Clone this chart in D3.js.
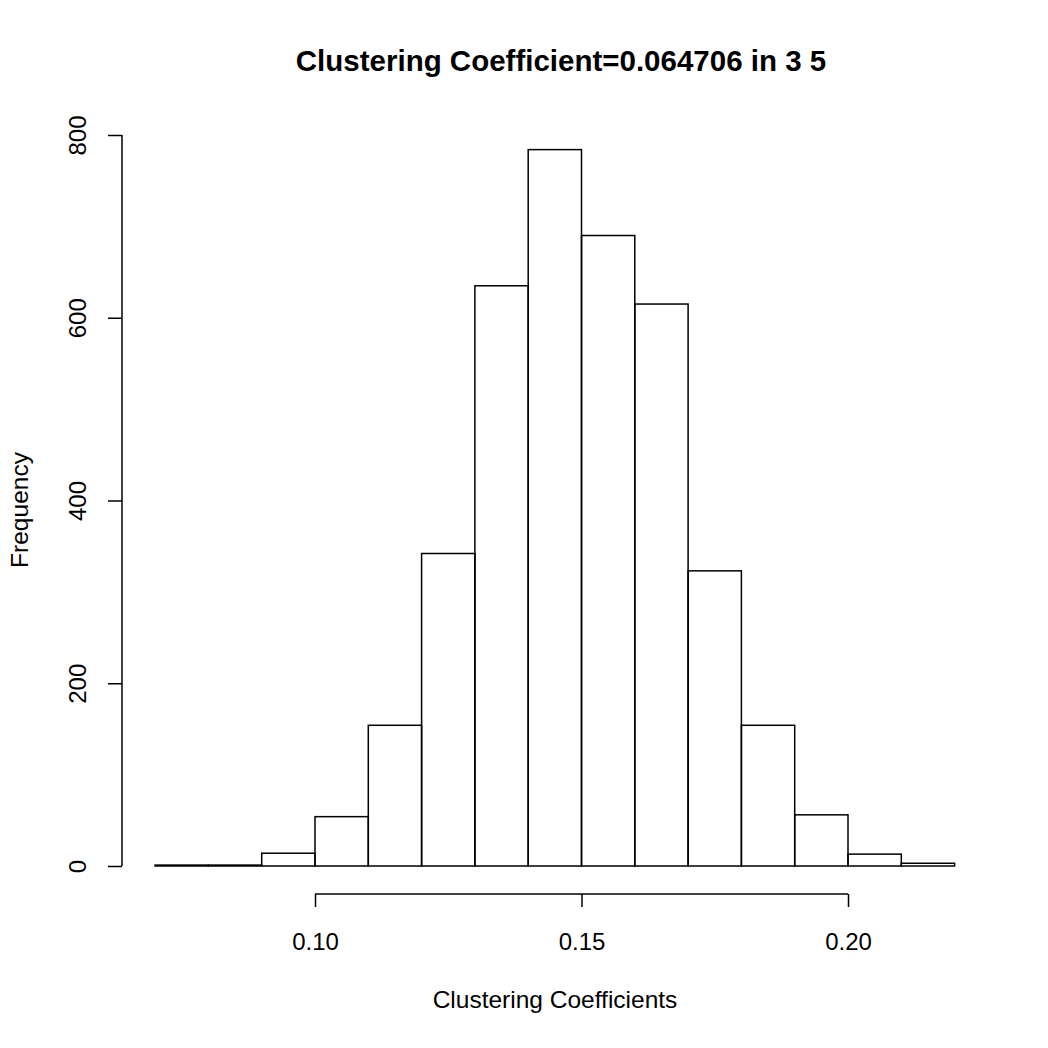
<!DOCTYPE html>
<html><head><meta charset="utf-8">
<script src="https://cdn.jsdelivr.net/npm/d3@7"></script>
<style>body{margin:0;background:#fff}svg{display:block}text{font-family:"Liberation Sans",Arial,sans-serif}</style>
</head><body>
<script>
const binStarts = [0.07,0.08,0.09,0.10,0.11,0.12,0.13,0.14,0.15,0.16,0.17,0.18,0.19,0.20,0.21];
const binWidth = 0.01;
const counts = [1,1,14,54,154,342,635,784,690,615,323,154,56,13,3];
const xTicks = [0.10,0.15,0.20];
const yTicks = [0,200,400,600,800];
const title = "Clustering Coefficient=0.064706 in 3 5";
const xLabel = "Clustering Coefficients";
const yLabel = "Frequency";

const W=1048,H=1048;
const svg=d3.select("body").append("svg").attr("width",W).attr("height",H);
const x=d3.scaleLinear().domain([0.10,0.20]).range([315,848]);
const y=d3.scaleLinear().domain([0,800]).range([866,135]);

svg.append("g").selectAll("rect").data(binStarts).join("rect")
 .attr("x",(d)=>x(d)).attr("width",(d)=>x(d+binWidth)-x(d))
 .attr("y",(d,i)=>y(counts[i])).attr("height",(d,i)=>y(0)-y(counts[i]))
 .attr("fill","none").attr("stroke","#000").attr("stroke-width",1.5);

const xa=svg.append("g").attr("transform","translate(0,894)")
 .call(d3.axisBottom(x).tickValues(xTicks).tickFormat(d3.format(".2f")).tickSize(13).tickPadding(26));
const ya=svg.append("g").attr("transform","translate(122,0)")
 .call(d3.axisLeft(y).tickValues(yTicks).tickSize(14).tickPadding(10));
[xa,ya].forEach(a=>{a.selectAll("path,line").attr("stroke","#000").attr("stroke-width",1.5);
 a.attr("font-size",24).attr("font-family","Liberation Sans, Arial, sans-serif");
 a.selectAll("text").attr("font-size",24).attr("fill","#000");});
xa.select(".domain").attr("d",`M${x(0.10)},0H${x(0.20)}`);
ya.select(".domain").attr("d",`M0,${y(0)}V${y(800)}`);
ya.selectAll(".tick text").attr("transform","rotate(-90)").attr("x",0).attr("y",-44).attr("dy","0.35em").attr("text-anchor","middle");

svg.append("text").attr("x",561).attr("y",71).attr("text-anchor","middle").attr("font-size",29.5).attr("font-weight","bold").text(title);
svg.append("text").attr("x",555).attr("y",1008).attr("text-anchor","middle").attr("font-size",24.5).text(xLabel);
svg.append("text").attr("transform","translate(28,510) rotate(-90)").attr("text-anchor","middle").attr("font-size",24.5).text(yLabel);
</script>
</body></html>
